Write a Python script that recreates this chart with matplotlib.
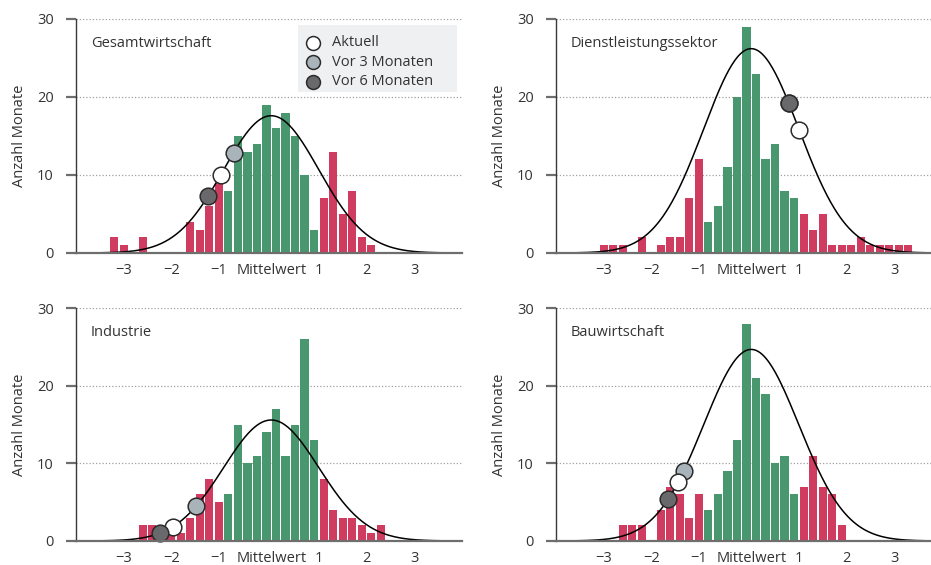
import numpy as np
import matplotlib.pyplot as plt
from matplotlib.patches import Rectangle
from matplotlib.transforms import ScaledTranslation

plt.rcParams['font.family'] = ['Open Sans', 'DejaVu Sans']

# histogram bins are 0.2 wide; each series lists counts from its first bin centre
BIN = 0.2

gesamt_first = -3.3
gesamt_counts = [2, 1, 0, 2, 0, 0, 0, 0, 4, 3, 6, 9, 8, 15, 13, 14, 19, 16, 18, 15,
                 10, 3, 7, 13, 5, 8, 2, 1]

dienst_first = -3.1
dienst_counts = [1, 1, 1, 0, 2, 0, 1, 2, 2, 7, 12, 4, 6, 11, 20, 29, 23, 12, 14, 8,
                 7, 5, 3, 5, 1, 1, 1, 2, 1, 1, 1, 1, 1]

industrie_first = -2.7
industrie_counts = [2, 2, 1, 1, 1, 3, 6, 8, 5, 6, 15, 10, 11, 14, 17, 11, 15, 26, 13,
                    8, 4, 3, 3, 2, 1, 2]

bau_first = -2.7
bau_counts = [2, 2, 2, 0, 4, 7, 6, 3, 6, 4, 6, 9, 13, 28, 21, 19, 10, 11, 6, 7, 11,
              7, 6, 2]

# peak height of the fitted normal curve (sd = 1) per sector
curve_peak = {
    'Gesamtwirtschaft': 17.6,
    'Dienstleistungssektor': 26.2,
    'Industrie': 15.6,
    'Bauwirtschaft': 24.7,
}

# standardised position of the current reading, 3 and 6 months ago
pos_aktuell = {'Gesamtwirtschaft': -1.06, 'Dienstleistungssektor': 1.01,
               'Industrie': -2.07, 'Bauwirtschaft': -1.53}
pos_vor3 = {'Gesamtwirtschaft': -0.79, 'Dienstleistungssektor': 0.79,
            'Industrie': -1.58, 'Bauwirtschaft': -1.42}
pos_vor6 = {'Gesamtwirtschaft': -1.32, 'Dienstleistungssektor': 0.79,
            'Industrie': -2.33, 'Bauwirtschaft': -1.74}

x_ticks = [-3, -2, -1, 0, 1, 2, 3]
x_ticklabels = ['\u22123', '\u22122', '\u22121', 'Mittelwert', '1', '2', '3']
y_ticks = [0, 10, 20, 30]

RED = '#d03b60'
GREEN = '#48976f'
TEXT = '#333333'
AXIS_GREY = '#6e6e6e'
MARKER_COLORS = {'Aktuell': '#ffffff', 'Vor 3 Monaten': '#a8b3ba',
                 'Vor 6 Monaten': '#69696c'}
FS = 10.5

W, H = 931, 565
fig = plt.figure(figsize=(W / 100, H / 100), dpi=100)


def px_axes(left, right, top, bottom):
    return fig.add_axes([left / W, 1 - bottom / H, (right - left) / W, (bottom - top) / H])


def draw_key(ax):
    """Marker key in a light grey box, placed in axes fraction."""
    ax.add_patch(Rectangle((0.5756, 0.688), 0.412, 0.2864, transform=ax.transAxes,
                           facecolor='#eef0f2', edgecolor='none', zorder=6,
                           clip_on=False))
    for i, (label, color) in enumerate(MARKER_COLORS.items()):
        y = 0.8987 - i * 0.0833
        ax.plot([0.6137], [y], 'o', ms=10, mfc=color, mec='#2b2b2b', mew=1.1,
                transform=ax.transAxes, zorder=7, clip_on=False)
        ax.text(0.663, y, label, transform=ax.transAxes, fontsize=FS,
                color=TEXT, va='center', ha='left', zorder=7)


def draw_panel(ax, name, first, counts):
    counts = np.asarray(counts)
    centers = first + BIN * np.arange(len(counts))
    colors = [RED if abs(c) > 1 else GREEN for c in centers]
    ax.bar(centers, counts, width=0.172, color=colors, zorder=2)

    xs = np.linspace(-4.1, 4.0, 400)
    amp = curve_peak[name]
    ax.plot(xs, amp * np.exp(-xs ** 2 / 2), color='black', lw=1.1, zorder=3)

    for label, pos in (('Vor 3 Monaten', pos_vor3), ('Aktuell', pos_aktuell),
                       ('Vor 6 Monaten', pos_vor6)):
        x = pos[name]
        ax.plot([x], [amp * np.exp(-x ** 2 / 2)], 'o', ms=12,
                mfc=MARKER_COLORS[label], mec='#2b2b2b', mew=1.1, zorder=4,
                clip_on=False)

    ax.set_xlim(-4.1, 4.0)
    ax.set_ylim(0, 30)
    ax.set_yticks(y_ticks)
    ax.set_xticks(x_ticks)
    ax.set_xticklabels(x_ticklabels)
    ax.tick_params(axis='x', length=0, pad=7.5, labelsize=FS, labelcolor=TEXT)
    ax.tick_params(axis='y', length=7, width=1.6, color=AXIS_GREY, pad=9,
                   labelsize=FS, labelcolor=TEXT)
    # hang the minus sign so the digit sits on the tick
    for lab in ax.get_xticklabels():
        if lab.get_text().startswith('\u2212'):
            lab.set_transform(lab.get_transform() +
                              ScaledTranslation(-0.045, 0, fig.dpi_scale_trans))

    for side in ('top', 'right'):
        ax.spines[side].set_visible(False)
    ax.spines['left'].set_color('#3a3a3a')
    ax.spines['left'].set_linewidth(1.0)
    ax.spines['bottom'].set_color(AXIS_GREY)
    ax.spines['bottom'].set_linewidth(1.6)
    ax.spines['bottom'].set_zorder(5)

    ax.yaxis.grid(True, linestyle=(0, (1, 1.6)), color='#a0a0a0', lw=0.9)
    ax.set_axisbelow(True)
    ax.set_ylabel('Anzahl Monate', fontsize=FS, color=TEXT, labelpad=7)
    ax.text(0.039, 0.897, name, transform=ax.transAxes, fontsize=FS,
            color=TEXT, va='center', ha='left')


ax1 = px_axes(76, 461.7, 19, 253)
ax2 = px_axes(556, 941.7, 19, 253)
ax3 = px_axes(76, 461.7, 308.3, 541)
ax4 = px_axes(556, 941.7, 308.3, 541)

draw_panel(ax1, 'Gesamtwirtschaft', gesamt_first, gesamt_counts)
draw_panel(ax2, 'Dienstleistungssektor', dienst_first, dienst_counts)
draw_panel(ax3, 'Industrie', industrie_first, industrie_counts)
draw_panel(ax4, 'Bauwirtschaft', bau_first, bau_counts)
draw_key(ax1)

fig.savefig('out.png', dpi=100)
